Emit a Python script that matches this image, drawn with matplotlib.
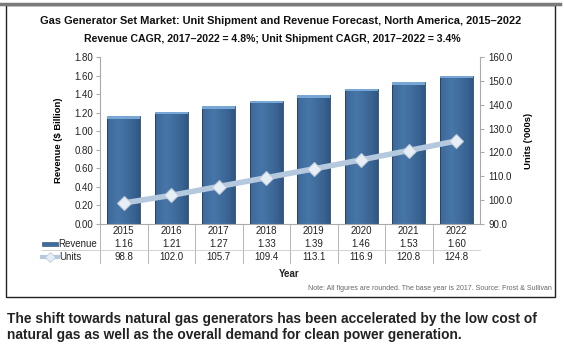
import matplotlib
matplotlib.use("Agg")
import matplotlib.pyplot as plt
import numpy as np
from matplotlib.patches import Rectangle
from matplotlib.lines import Line2D
from matplotlib.transforms import blended_transform_factory

years = ["2015", "2016", "2017", "2018", "2019", "2020", "2021", "2022"]
revenue = [1.16, 1.21, 1.27, 1.33, 1.39, 1.46, 1.53, 1.60]
units = [98.8, 102.0, 105.7, 109.4, 113.1, 116.9, 120.8, 124.8]
rev_ticks = [0.0, 0.2, 0.4, 0.6, 0.8, 1.0, 1.2, 1.4, 1.6, 1.8]
unit_ticks = [90, 100, 110, 120, 130, 140, 150, 160]

plt.rcParams['font.family'] = ['Liberation Sans', 'DejaVu Sans']

W, H = 564, 351
fig = plt.figure(figsize=(W / 100, H / 100), dpi=100)

def fx(px):
    return px / W

def fy(py):
    return 1 - py / H

# outer frame
fig.patches.append(Rectangle((fx(6), fy(297)), fx(555) - fx(6), fy(5) - fy(297),
                             transform=fig.transFigure, fill=False,
                             edgecolor='#222222', lw=1.0))
fig.add_artist(Line2D([fx(0), fx(560)], [fy(4), fy(4)], transform=fig.transFigure,
                      color='#7a7a7a', lw=2.5))

left, right, top, bottom = 100, 480, 57, 224
ax = fig.add_axes([fx(left), fy(bottom), fx(right) - fx(left), fy(top) - fy(bottom)])
x = list(range(len(years)))

bw = 0.69
# subtle gradient for bars
grad = np.linspace(0, 1, 64)
c_light = np.array([0x47, 0x76, 0xa8]) / 255
c_dark = np.array([0x2e, 0x55, 0x82]) / 255
w = np.clip(1 - np.abs(grad - 0.35) / 0.65, 0, 1) ** 0.7
img = (c_dark[None, :] + (c_light - c_dark)[None, :] * w[:, None])[None, :, :]
for xi, v in zip(x, revenue):
    bar = Rectangle((xi - bw / 2, 0), bw, v, facecolor='none', edgecolor='#223f60', lw=0.6, zorder=3)
    ax.add_patch(bar)
    im = ax.imshow(img, extent=[xi - bw / 2, xi + bw / 2, 0, v], aspect='auto', zorder=2,
                   interpolation='bilinear')
    im.set_clip_path(bar)
    ax.add_patch(Rectangle((xi - bw / 2, v - 0.028), bw, 0.028, facecolor='#78a7d6',
                           edgecolor='none', zorder=3))
ax.set_xlim(-0.5, len(years) - 0.5)
ax.set_ylim(0, 1.8)

ax.set_yticks(rev_ticks)
ax.set_yticklabels([f"{t:.2f}" for t in rev_ticks], fontsize=7, color='#222222')
ax.set_xticks([])
for s in ['top', 'right']:
    ax.spines[s].set_visible(False)
ax.spines['left'].set_color('#aaaaaa')
ax.spines['bottom'].set_color('#aaaaaa')
ax.tick_params(axis='y', direction='out', length=3, color='#aaaaaa', pad=2)
ax.set_ylabel("Revenue ($ Billion)", fontsize=6.8, fontweight='bold', labelpad=8)

ax2 = ax.twinx()
ax2.set_ylim(90, 160)
ax2.plot(x, units, color='#b4c8de', lw=4, zorder=4, solid_capstyle='round')
ax2.plot(x, units, ls='none', marker='D', ms=7, mfc='#e8eef5', mec='#c0ccd8', mew=0.8, zorder=5)
ax2.set_yticks(unit_ticks)
ax2.set_yticklabels([f"{t:.1f}" for t in unit_ticks], fontsize=7, color='#222222')
for s in ['top', 'left', 'bottom']:
    ax2.spines[s].set_visible(False)
ax2.spines['right'].set_color('#aaaaaa')
ax2.tick_params(axis='y', direction='out', length=3, color='#aaaaaa', pad=3)
ax2.set_ylabel("Units ('000s)", fontsize=6.8, fontweight='bold', labelpad=8)
ax2.set_xlim(-0.5, len(years) - 0.5)

# data table below
tr = blended_transform_factory(ax.transData, fig.transFigure)
for xi, yr, r, u in zip(x, years, revenue, units):
    ax.text(xi, fy(231), yr, transform=tr, ha='center', va='center', fontsize=7, color='#222222')
    ax.text(xi, fy(244), f"{r:.2f}", transform=tr, ha='center', va='center', fontsize=7, color='#222222')
    ax.text(xi, fy(257), f"{u:.1f}", transform=tr, ha='center', va='center', fontsize=7, color='#222222')
for k in range(len(years)):
    ax.add_artist(Line2D([k - 0.5, k - 0.5], [fy(224), fy(263)], transform=tr,
                         color='#aaaaaa', lw=0.6, clip_on=False))
fig.add_artist(Line2D([fx(42), fx(480)], [fy(250), fy(250)], transform=fig.transFigure,
                      color='#cccccc', lw=0.6))

# legend entries in table
fig.patches.append(Rectangle((fx(42), fy(246)), fx(16), fy(242) - fy(246), transform=fig.transFigure,
                             facecolor='#3e6c9c', edgecolor='#26466a', lw=0.4))
fig.text(fx(58), fy(244), "Revenue", ha='left', va='center', fontsize=7, color='#222222')
fig.add_artist(Line2D([fx(42), fx(58)], [fy(257), fy(257)], transform=fig.transFigure,
                      color='#b4c8de', lw=3))
fig.add_artist(Line2D([fx(50)], [fy(257)], transform=fig.transFigure, ls='none', marker='D',
                      ms=5, mfc='#e8eef5', mec='#c0ccd8', mew=0.6))
fig.text(fx(59), fy(257), "Units", ha='left', va='center', fontsize=7, color='#222222')

fig.text(fx(289), fy(274), "Year", ha='center', va='center', fontsize=7, fontweight='bold', color='#222222')
fig.text(fx(552), fy(289), "Note: All figures are rounded. The base year is 2017. Source: Frost & Sullivan",
         ha='right', va='center', fontsize=5.0, color='#666666')

fig.text(fx(281), fy(21), "Gas Generator Set Market: Unit Shipment and Revenue Forecast, North America, 2015\u20132022",
         ha='center', va='center', fontsize=7.95, fontweight='bold', color='#111111')
fig.text(fx(272), fy(39), "Revenue CAGR, 2017\u20132022 = 4.8%; Unit Shipment CAGR, 2017\u20132022 = 3.4%",
         ha='center', va='center', fontsize=7.6, fontweight='bold', color='#111111')

fig.text(fx(7), fy(319), "The shift towards natural gas generators has been accelerated by the low cost of",
         ha='left', va='center', fontsize=9.9, fontweight='bold', color='#222222')
fig.text(fx(7), fy(335), "natural gas as well as the overall demand for clean power generation.",
         ha='left', va='center', fontsize=9.9, fontweight='bold', color='#222222')

fig.savefig("out.png", dpi=100)
